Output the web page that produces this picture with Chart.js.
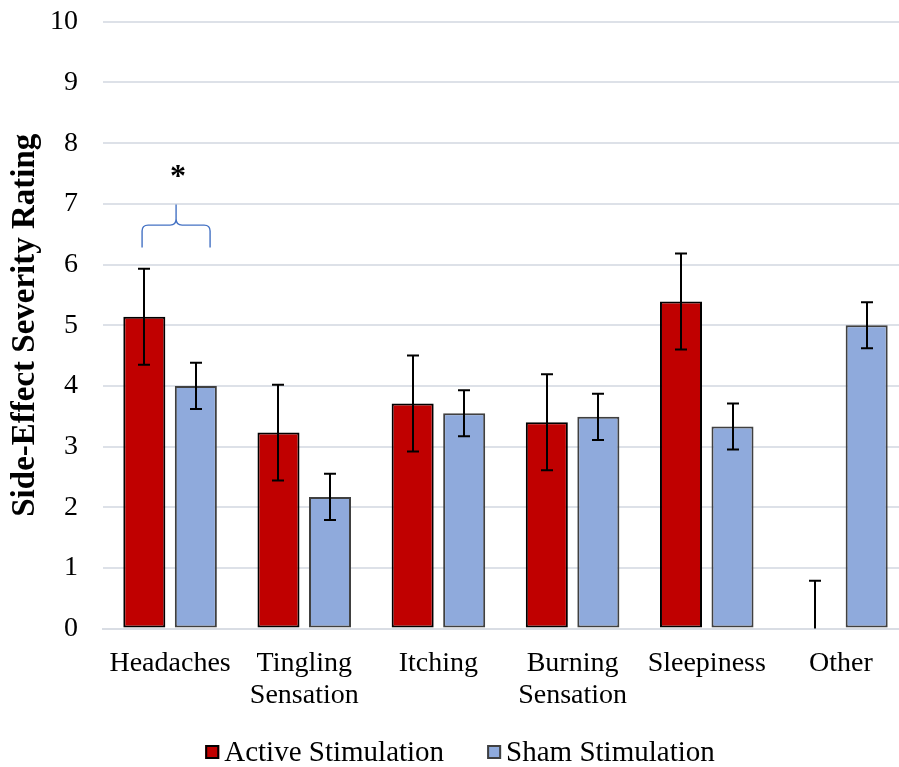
<!DOCTYPE html>
<html>
<head>
<meta charset="utf-8">
<script src="https://cdn.jsdelivr.net/npm/chart.js@4/dist/chart.umd.min.js"></script>
<style>
  html, body { margin: 0; padding: 0; background: #ffffff; overflow: hidden; }
  #wrap { width: 920px; height: 767px; overflow: hidden; }
  #chart { display: block; margin-top: -20px; }
</style>
</head>
<body>
<div id="wrap"><canvas id="chart" width="920" height="787"></canvas></div>
<script>
// Side-effect categories
const categories = ['Headaches', ['Tingling', 'Sensation'], 'Itching', ['Burning', 'Sensation'], 'Sleepiness', 'Other'];

// Mean severity ratings and error margins per group
const activeMeans = [5.14, 3.23, 3.71, 3.40, 5.39, 0];
const activeErrors = [0.79, 0.79, 0.79, 0.79, 0.79, 0.79];
const shamMeans = [4.00, 2.17, 3.55, 3.49, 3.33, 5.00];
const shamErrors = [0.38, 0.38, 0.38, 0.38, 0.38, 0.38];

// Y axis range
const yMin = 0;
const yMax = 10;
const yStep = 1;

// Significance marker over Headaches (in rating units)
const sigCategoryIndex = 0;
const braceBase = 6.28;
const braceMid = 6.65;
const bracePeak = 6.99;
const starLevel = 7.53;

const FONT = '"Liberation Serif", "Times New Roman", serif';

// Error bars drawn from each bar element's geometry
const errorBars = {
  id: 'errorBars',
  afterDatasetsDraw(chart) {
    const ctx = chart.ctx;
    const y = chart.scales.y;
    const errs = [activeErrors, shamErrors];
    ctx.save();
    ctx.strokeStyle = '#000000';
    ctx.lineWidth = 2;
    chart.data.datasets.forEach((ds, di) => {
      const meta = chart.getDatasetMeta(di);
      meta.data.forEach((bar, i) => {
        const v = ds.data[i];
        const e = errs[di][i];
        const top = y.getPixelForValue(v + e);
        const bot = y.getPixelForValue(Math.max(yMin, v - e));
        const x = Math.round(bar.x);
        const cap = 6;
        ctx.beginPath();
        ctx.moveTo(x, top);
        ctx.lineTo(x, bot);
        ctx.moveTo(x - cap, top);
        ctx.lineTo(x + cap, top);
        if (v - e > yMin) {
          ctx.moveTo(x - cap, bot);
          ctx.lineTo(x + cap, bot);
        }
        ctx.stroke();
      });
    });
    ctx.restore();
  }
};

// Curly brace and asterisk marking the significant difference
const significance = {
  id: 'significance',
  afterDatasetsDraw(chart) {
    const ctx = chart.ctx;
    const y = chart.scales.y;
    const a = chart.getDatasetMeta(0).data[sigCategoryIndex];
    const s = chart.getDatasetMeta(1).data[sigCategoryIndex];
    const cx = (a.x + s.x) / 2 + 6;
    const half = 34;
    const L = cx - half, R = cx + half;
    const yb = y.getPixelForValue(braceBase);
    const ym = y.getPixelForValue(braceMid);
    const yp = y.getPixelForValue(bracePeak);
    const r = 6;
    ctx.save();
    ctx.strokeStyle = '#4472C4';
    ctx.lineWidth = 1.4;
    ctx.beginPath();
    ctx.moveTo(L, yb);
    ctx.lineTo(L, ym + r);
    ctx.quadraticCurveTo(L, ym, L + r, ym);
    ctx.lineTo(cx - r, ym);
    ctx.quadraticCurveTo(cx, ym, cx, ym - r);
    ctx.lineTo(cx, yp);
    ctx.moveTo(cx, ym - r);
    ctx.quadraticCurveTo(cx, ym, cx + r, ym);
    ctx.lineTo(R - r, ym);
    ctx.quadraticCurveTo(R, ym, R, ym + r);
    ctx.lineTo(R, yb);
    ctx.stroke();
    ctx.fillStyle = '#000000';
    ctx.font = 'bold 32px ' + FONT;
    ctx.textAlign = 'center';
    ctx.textBaseline = 'alphabetic';
    ctx.fillText('*', cx + 2, y.getPixelForValue(starLevel) + 14);
    ctx.restore();
  }
};

// Legend row under the category labels, built from the datasets
const bottomLegend = {
  id: 'bottomLegend',
  afterDraw(chart) {
    const ctx = chart.ctx;
    const box = 14, gap = 5, itemGap = 43;
    const cy = chart.height - 15;
    ctx.save();
    ctx.font = '29px ' + FONT;
    ctx.textBaseline = 'middle';
    ctx.textAlign = 'left';
    const items = chart.data.datasets.map(ds => ({
      text: ds.label,
      fill: ds.backgroundColor,
      stroke: ds.borderColor,
      w: ctx.measureText(ds.label).width
    }));
    let total = 0;
    items.forEach((it, i) => { total += box + gap + it.w + (i ? itemGap : 0); });
    let x = (chart.width - total) / 2;
    items.forEach((it, i) => {
      if (i) x += itemGap;
      ctx.fillStyle = it.fill;
      ctx.fillRect(x, cy - box / 2, box, box);
      ctx.strokeStyle = it.stroke;
      ctx.lineWidth = 2;
      ctx.strokeRect(x + 1, cy - box / 2 + 1, box - 2, box - 2);
      ctx.fillStyle = '#000000';
      ctx.fillText(it.text, x + box + gap, cy + 1);
      x += box + gap + it.w;
    });
    ctx.restore();
  }
};

new Chart(document.getElementById('chart'), {
  type: 'bar',
  data: {
    labels: categories,
    datasets: [
      {
        label: 'Active Stimulation',
        data: activeMeans,
        backgroundColor: '#C00000',
        borderColor: '#000000',
        borderWidth: (c) => (c.raw === 0 ? 0 : 2),
        borderSkipped: false
      },
      {
        label: 'Sham Stimulation',
        data: shamMeans,
        backgroundColor: '#8FAADC',
        borderColor: '#404040',
        borderWidth: 2,
        borderSkipped: false
      }
    ]
  },
  options: {
    responsive: false,
    animation: false,
    categoryPercentage: 0.768,
    barPercentage: 0.816,
    layout: { padding: { left: 0, right: 12, top: 0, bottom: 36 } },
    plugins: {
      tooltip: { enabled: false },
      legend: { display: false }
    },
    scales: {
      x: {
        grid: { display: false, drawTicks: false },
        border: { display: true, color: '#D9DDE4', width: 2 },
        ticks: {
          color: '#000000',
          font: { family: FONT, size: 28, lineHeight: 1.15 },
          padding: 19,
          maxRotation: 0,
          autoSkip: false
        }
      },
      y: {
        min: yMin,
        max: yMax,
        afterFit(scale) { scale.width = 103; },
        grid: { color: '#DDE1E8', lineWidth: 2, drawTicks: false },
        border: { display: false },
        ticks: {
          stepSize: yStep,
          color: '#000000',
          font: { family: FONT, size: 28 },
          padding: 25
        },
        title: {
          display: true,
          text: 'Side-Effect Severity Rating',
          color: '#000000',
          font: { family: FONT, size: 33, weight: 'bold' },
          padding: { top: 6, bottom: 0 }
        }
      }
    }
  },
  plugins: [errorBars, significance, bottomLegend]
});
</script>
</body>
</html>
